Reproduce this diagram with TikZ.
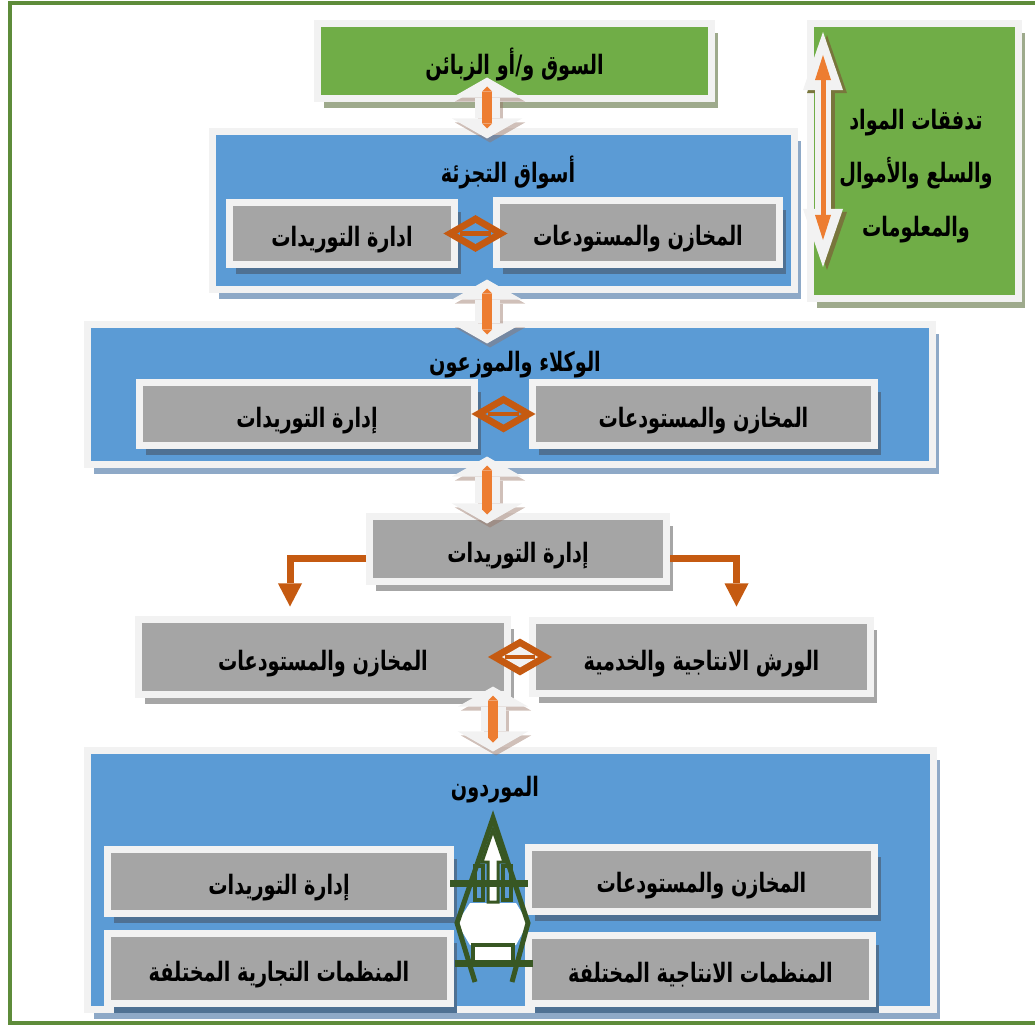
\documentclass[tikz,border=0pt]{standalone}
\usepackage{fontspec}
\usepackage{tikz}
\usetikzlibrary{arrows.meta,shapes,shadows,decorations.markings}
\TeXXeTstate=1
\newfontfamily\arabicfont[Script=Arabic,FakeStretch=0.72]{DejaVu Sans}
\newdimen\px \px=0.025cm
\definecolor{frgreen}{RGB}{94,140,58}
\definecolor{boxgreen}{RGB}{112,173,71}
\definecolor{boxblue}{RGB}{91,155,213}
\definecolor{boxgray}{RGB}{165,165,165}
\definecolor{framegray}{RGB}{242,242,242}
\definecolor{shgreen}{RGB}{158,170,140}
\definecolor{shblue}{RGB}{142,169,199}
\definecolor{shdeep}{RGB}{79,113,147}
\definecolor{shgray}{RGB}{166,166,166}
\definecolor{barorange}{RGB}{237,125,49}
\definecolor{rustorange}{RGB}{197,90,17}
\definecolor{symgreen}{RGB}{56,87,35}
\definecolor{shtan}{RGB}{150,115,100}
\definecolor{sholive}{RGB}{120,118,60}
% 1px of the sketch = 0.25mm
\tikzstyle{box} = [rectangle, draw=framegray, line width=7\px, inner sep=0pt, text=black, text height=21pt, text depth=2pt, font=\arabicfont\bfseries\fontsize{19}{22}\selectfont]
\tikzstyle{greenbox} = [box, fill=boxgreen, drop shadow={shadow xshift=1.5mm, shadow yshift=-2.25mm, fill=shgreen, opacity=1}]
\tikzstyle{bluebox} = [box, fill=boxblue, drop shadow={shadow xshift=1.5mm, shadow yshift=-2.25mm, fill=shblue, opacity=1}]
\tikzstyle{graybox} = [box, fill=boxgray, drop shadow={shadow xshift=1.5mm, shadow yshift=-2.25mm, fill=shdeep, opacity=1}]
\tikzstyle{grayboxw} = [box, fill=boxgray, drop shadow={shadow xshift=1.5mm, shadow yshift=-2.25mm, fill=shgray, opacity=1}]
\tikzstyle{boxtext} = [inner sep=0pt, font=\arabicfont\bfseries\fontsize{19}{22}\selectfont]
\tikzstyle{outerframe} = [draw=frgreen, line width=4\px]
\tikzstyle{flowshade} = [line width=25\px, draw=shtan, opacity=0.45, >={Triangle[length=5mm,width=17.5mm,line width=0pt]}, <->, transform canvas={shift={(0.75mm,-1mm)}}]
\tikzstyle{flowlink} = [line width=25\px, draw=framegray, >={Triangle[length=5mm,width=17.5mm,line width=0pt]}, <->]
\tikzstyle{flowbar} = [line width=10\px, draw=barorange, >={Triangle[length=1.25mm,width=2.5mm,line width=0pt]}, <->]
\tikzstyle{elbowlink} = [line width=7\px, draw=rustorange, >={Triangle[length=5.75mm,width=6mm,line width=0pt]}, ->]
\tikzset{swaplink/.style={draw=none, postaction={decorate}, decoration={markings, mark=at position 0.5 with {
  \fill[rustorange] (-8mm,0) -- (0,4.6mm) -- (8mm,0) -- (0,-4.6mm) -- cycle;
  \fill[#1] (-4.5mm,0) -- (0,2.6mm) -- (4.5mm,0) -- (0,-2.6mm) -- cycle;
  \fill[rustorange] (-3.8mm,-0.6mm) rectangle (3.8mm,0.6mm);}}}}

\begin{document}
\begin{tikzpicture}[x=0.025cm, y=-0.025cm]
\useasboundingbox (0,0) rectangle (1035,1025);
% Page frame
\draw[outerframe] (1035,3.5) -- (9.5,3.5) -- (9.5,1022.5) -- (1035,1022.5);

% Market and legend
\node (market) [greenbox, minimum width=394\px, minimum height=75\px] at (514.5,61) {\beginR السوق و/أو الزبائن\endR};
\node (flows) [greenbox, minimum width=208\px, minimum height=275\px] at (914.5,161) {};
\node (flowsText) [boxtext, align=center, font=\arabicfont\bfseries\fontsize{19}{38}\selectfont] at (916,176) {\beginR تدفقات المواد\endR\\\beginR والسلع والأموال\endR\\\beginR والمعلومات\endR};
\draw[line width=16\px, draw=sholive, >={Triangle[length=14.5mm,width=10mm,line width=0pt]}, <->, transform canvas={shift={(1mm,-0.75mm)}}] (823,32) -- (823,267);
\draw[line width=16\px, draw=framegray, >={Triangle[length=14.5mm,width=10mm,line width=0pt]}, <->] (823,32) -- (823,267);
\draw[line width=5\px, draw=barorange, >={Triangle[length=6.25mm,width=4mm,line width=0pt]}, <->] (823,55) -- (823,240);

% Retail markets
\node (retail) [bluebox, minimum width=582\px, minimum height=158\px] at (503.5,210.5) {};
\node (retailTitle) [boxtext] at (508,172) {\beginR أسواق التجزئة\endR};
\node (retailSupply) [graybox, minimum width=225\px, minimum height=62\px] at (342,233.5) {\beginR ادارة التوريدات\endR};
\node (retailStore) [graybox, minimum width=283\px, minimum height=64\px] at (638,232.5) {\beginR المخازن والمستودعات\endR};

% Agents and distributors
\node (agents) [bluebox, minimum width=845\px, minimum height=140\px] at (510,394.5) {};
\node (agentsTitle) [boxtext] at (515,365) {\beginR الوكلاء والموزعون\endR};
\node (agentSupply) [graybox, minimum width=335\px, minimum height=63\px] at (307,414) {\beginR إدارة التوريدات\endR};
\node (agentStore) [graybox, minimum width=342\px, minimum height=63\px] at (703.5,414) {\beginR المخازن والمستودعات\endR};

% Supply management
\node (supply) [grayboxw, minimum width=297\px, minimum height=65\px] at (518,549) {\beginR إدارة التوريدات\endR};
\node (storeRow) [grayboxw, minimum width=369\px, minimum height=75\px] at (323,657) {\beginR المخازن والمستودعات\endR};
\node (shopRow) [grayboxw, minimum width=338\px, minimum height=73\px] at (701.5,657) {\beginR الورش الانتاجية والخدمية\endR};

% Suppliers
\node (vendors) [bluebox, minimum width=846\px, minimum height=259\px] at (510.5,880) {};
\node (vendorsTitle) [boxtext] at (495,790) {\beginR الموردون\endR};
\node (vendSupply) [graybox, minimum width=343\px, minimum height=64\px] at (279,881.5) {\beginR إدارة التوريدات\endR};
\node (vendStore) [graybox, minimum width=346\px, minimum height=64\px] at (701.5,879.5) {\beginR المخازن والمستودعات\endR};
\node (vendTrade) [graybox, minimum width=343\px, minimum height=70\px] at (279,968.5) {\beginR المنظمات التجارية المختلفة\endR};
\node (vendMake) [graybox, minimum width=344\px, minimum height=68\px] at (700.5,969.5) {\beginR المنظمات الانتاجية المختلفة\endR};

% Vertical flows
\coordinate (spine) at (487,0);
\coordinate (spineLow) at (493,0);
\draw[flowshade, shorten <=-24.5\px, shorten >=-10.5\px] (market.south -| spine) -- (retail.north -| spine);
\draw[flowlink, shorten <=-24.5\px, shorten >=-10.5\px] (market.south -| spine) -- (retail.north -| spine);
\draw[flowbar, shorten <=-15.5\px, shorten >=-0.5\px] (market.south -| spine) -- (retail.north -| spine);
\draw[flowshade, shorten <=-13.5\px, shorten >=-22.5\px] (retail.south -| spine) -- (agents.north -| spine);
\draw[flowlink, shorten <=-13.5\px, shorten >=-22.5\px] (retail.south -| spine) -- (agents.north -| spine);
\draw[flowbar, shorten <=-4.5\px, shorten >=-13.5\px] (retail.south -| spine) -- (agents.north -| spine);
\draw[flowshade, shorten <=-11.5\px, shorten >=-10.5\px] (agents.south -| spine) -- (supply.north -| spine);
\draw[flowlink, shorten <=-11.5\px, shorten >=-10.5\px] (agents.south -| spine) -- (supply.north -| spine);
\draw[flowbar, shorten <=-2.5\px, shorten >=-1.5\px] (agents.south -| spine) -- (supply.north -| spine);
\draw[flowshade, shorten <=-11.5\px, shorten >=-4.5\px] (storeRow.south -| spineLow) -- (vendors.north -| spineLow);
\draw[flowlink, shorten <=-11.5\px, shorten >=-4.5\px] (storeRow.south -| spineLow) -- (vendors.north -| spineLow);
\draw[flowbar, shorten <=-2.5\px, shorten >=4.5\px] (storeRow.south -| spineLow) -- (vendors.north -| spineLow);

% Side exchanges
\path[swaplink=boxblue] (retailSupply.east) -- (retailSupply.east -| retailStore.west);
\path[swaplink=boxblue] (agentSupply.east) -- (agentSupply.east -| agentStore.west);
\path[swaplink=framegray] (storeRow.east) -- (storeRow.east -| shopRow.west);

% Split of supply management
\draw[elbowlink, shorten >=9.5\px] ([yshift=-9\px]supply.west) -| ([xshift=-33\px]storeRow.north);
\draw[elbowlink, shorten >=10.5\px] ([yshift=-9\px]supply.east) -| ([xshift=35\px]shopRow.north);

% Suppliers sign
\fill[white] (470,903) -- (516,903) -- (528,923) -- (516,945) -- (470,945) -- (457,923) -- cycle;
\fill[white] (473,945) rectangle (513,962);
\draw[symgreen, line width=5\px] (475,982) -- (457,923) -- (493,818) -- (528,923) -- (512,982);
\filldraw[fill=white, draw=symgreen, line width=3\px] (493,830) -- (504,862) -- (498,862) -- (498,902) -- (488,902) -- (488,862) -- (482,862) -- cycle;
\draw[symgreen, line width=3.5\px] (475,866) rectangle (483,900) (503,866) rectangle (511,900);
\draw[symgreen, line width=7\px] (450,883.5) -- (528,883.5) (455,963.5) -- (533,963.5);
\draw[symgreen, line width=4\px] (473,963) -- (473,945) -- (513,945) -- (513,963);
\end{tikzpicture}
\end{document}
